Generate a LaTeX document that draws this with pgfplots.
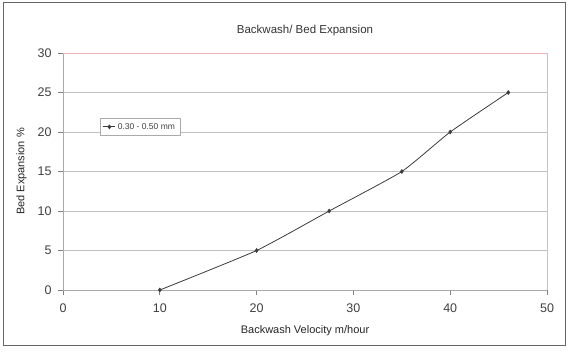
\documentclass[border=0pt]{standalone}
\usepackage{pgfplots}
\pgfplotsset{compat=1.18}
\usepackage{fontspec}
\setmainfont{Liberation Sans}
\definecolor{grid}{RGB}{170,170,170}
\definecolor{pinkb}{RGB}{235,180,185}
\definecolor{line}{RGB}{60,60,60}
\begin{document}
\begin{tikzpicture}[x=1pt,y=1pt]
\useasboundingbox (0,0) rectangle (569,353);
\draw[draw=gray!80!black, line width=1pt] (3,8) rectangle (565,350);
\begin{axis}[
  name=ax,
  at={(63pt,63pt)}, anchor=south west,
  scale only axis, width=484pt, height=237pt,
  xmin=0, xmax=50, ymin=0, ymax=30,
  xtick={0,10,...,50}, ytick={0,5,...,30},
  axis x line*=bottom, axis y line*=left,
  axis line style={grid, line width=0.8pt, -},
  tick style={grid, line width=0.8pt},
  tick align=outside, major tick length=5pt,
  xmajorgrids=false, ymajorgrids=true, grid style={grid, line width=0.8pt},
  tick label style={font=\fontsize{12.5}{14}\selectfont, text=black!75},
  xticklabel style={yshift=-5pt},
  yticklabel style={xshift=-3pt},
  /pgf/number format/assume math mode=true,
  title={Backwash/ Bed Expansion},
  title style={font=\fontsize{11.5}{13}\selectfont, text=black!80, yshift=8pt},
  xlabel={Backwash Velocity m/hour},
  ylabel={Bed Expansion \%},
  label style={font=\fontsize{11}{12}\selectfont, text=black!85},
  xlabel style={yshift=-6pt},
  ylabel style={yshift=4pt},
  legend style={at={(0.076,0.726)}, anchor=north west, draw=grid,
    font=\fontsize{8.5}{9}\selectfont, text=black!75, inner sep=3pt},
  legend image code/.code={\draw[#1] (0pt,0pt) -- (12pt,0pt); \draw[#1, mark repeat=1] plot coordinates {(6pt,0pt)};},
  legend cell align=left,
  clip=false,
]
\addplot[line, line width=0.8pt, smooth, tension=0.3, mark=diamond*, mark size=1.8pt, mark options={fill=line, draw=line}]
  coordinates {(10,0) (20,5) (27.5,10) (35,15) (40,20) (46,25)};
\addlegendentry{0.30 - 0.50 mm}
\draw[pinkb, line width=0.8pt] (axis cs:0,30) -- (axis cs:50,30) -- (axis cs:50,0);
\end{axis}
\end{tikzpicture}
\end{document}
